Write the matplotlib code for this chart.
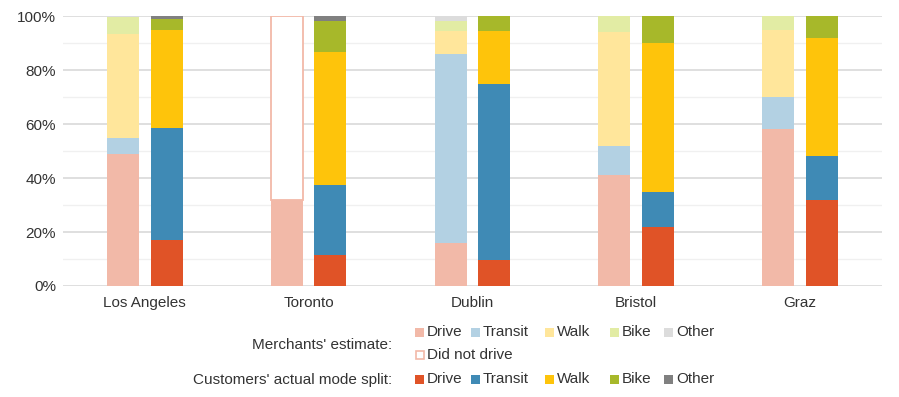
import matplotlib.pyplot as plt
from matplotlib.patches import Rectangle
import numpy as np

plt.rcParams['font.family'] = ['Liberation Sans', 'DejaVu Sans']

cities = ['Los Angeles', 'Toronto', 'Dublin', 'Bristol', 'Graz']
modes = ['Drive', 'Transit', 'Walk', 'Bike', 'Other']

# merchants' estimate (%)
merchant_drive = [49, 32, 16, 41, 58]
merchant_transit = [6, 0, 70, 11, 12]
merchant_walk = [38.5, 0, 8.5, 42, 25]
merchant_bike = [6, 0, 3.5, 6, 5]
merchant_other = [0.5, 0, 2, 0, 0]
# Toronto only gives drive / did not drive
merchant_did_not_drive = [0, 68, 0, 0, 0]

# customers' actual mode split (%)
customer_drive = [17, 11.5, 9.5, 22, 32]
customer_transit = [41.5, 26, 65.5, 13, 16]
customer_walk = [36.5, 49, 19.5, 55, 44]
customer_bike = [4, 11.5, 5.5, 10, 8]
customer_other = [1, 2, 0, 0, 0]

merchant_colors = ['#f2b9a8', '#b3d1e3', '#ffe69b', '#e2eca4', '#dcdcdc']
customer_colors = ['#e05327', '#3f8ab5', '#fec40b', '#a7b82a', '#808080']

text_color = '#333333'

fig = plt.figure(figsize=(8.99, 3.97), dpi=100)
ax = fig.add_axes([0.070, 0.2796, 0.911, 0.680])

x = np.arange(len(cities))
bar_w = 0.195
off = 0.133

merchant_series = [merchant_drive, merchant_transit, merchant_walk, merchant_bike, merchant_other]
customer_series = [customer_drive, customer_transit, customer_walk, customer_bike, customer_other]

bottom = np.zeros(len(cities))
for vals, col in zip(merchant_series, merchant_colors):
    ax.bar(x - off, vals, bar_w, bottom=bottom, color=col, zorder=3)
    bottom += np.array(vals)

# did not drive: outlined box, only where there is one
dnd = np.array(merchant_did_not_drive)
has = dnd > 0
ax.bar(x[has] - off, dnd[has], bar_w, bottom=bottom[has], color='white',
       edgecolor='#f2b9a8', linewidth=1.3, zorder=3)

bottom = np.zeros(len(cities))
for vals, col in zip(customer_series, customer_colors):
    ax.bar(x + off, vals, bar_w, bottom=bottom, color=col, zorder=3)
    bottom += np.array(vals)

ax.set_xlim(-0.5, len(cities) - 0.5)
ax.set_ylim(0, 100)
ax.set_yticks(np.arange(0, 101, 20))
ax.set_yticklabels([f'{v}%' for v in range(0, 101, 20)])
ax.set_yticks(np.arange(10, 100, 20), minor=True)
ax.set_xticks(x)
ax.set_xticklabels(cities)
ax.grid(axis='y', which='major', color='#d9d9d9', linewidth=1.2, zorder=0)
ax.grid(axis='y', which='minor', color='#f0f0f0', linewidth=1.0, zorder=0)
for s in ax.spines.values():
    s.set_visible(False)
ax.tick_params(axis='both', which='both', length=0, labelsize=11, colors=text_color)
ax.tick_params(axis='y', pad=5)
ax.tick_params(axis='x', pad=7)

# legend drawn by hand in figure pixels
W, H = 899, 397

def fx(px):
    return px / W

def fy(py):
    return 1 - py / H

fig.text(fx(392), fy(345), "Merchants' estimate:", ha='right', va='center',
         fontsize=11, color=text_color)
fig.text(fx(392), fy(380), "Customers' actual mode split:", ha='right', va='center',
         fontsize=11, color=text_color)

item_x = [415, 471, 545, 610, 664]
sq = 9
for row_y, cols in [(332, merchant_colors), (379, customer_colors)]:
    for px, name, col in zip(item_x, modes, cols):
        fig.patches.append(Rectangle((fx(px), fy(row_y + sq / 2)), sq / W, sq / H,
                                     transform=fig.transFigure, facecolor=col,
                                     edgecolor='none'))
        fig.text(fx(px + 12), fy(row_y), name, ha='left', va='center',
                 fontsize=11, color=text_color)

fig.patches.append(Rectangle((fx(415.5), fy(355 + 4)), 8 / W, 8 / H,
                             transform=fig.transFigure, facecolor='white',
                             edgecolor='#f2b9a8', linewidth=1.2))
fig.text(fx(427), fy(355), 'Did not drive', ha='left', va='center',
         fontsize=11, color=text_color)

fig.savefig('out.png', dpi=100)
